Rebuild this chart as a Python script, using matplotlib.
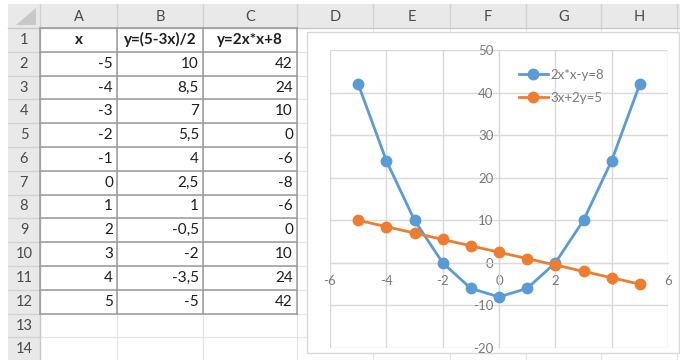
import numpy as np
import matplotlib
matplotlib.use("Agg")
import matplotlib.pyplot as plt
from matplotlib.patches import Rectangle, Polygon

plt.rcParams['font.family'] = ['Lato', 'DejaVu Sans']
plt.rcParams['axes.unicode_minus'] = False

# data from the sheet
x_vals = [-5, -4, -3, -2, -1, 0, 1, 2, 3, 4, 5]
y_line = [10, 8.5, 7, 5.5, 4, 2.5, 1, -0.5, -2, -3.5, -5]      # y=(5-3x)/2
y_parab = [42, 24, 10, 0, -6, -8, -6, 0, 10, 24, 42]          # column C
col_names = ['A', 'B', 'C', 'D', 'E', 'F', 'G', 'H']
head_row = ['x', 'y=(5-3x)/2', 'y=2x*x+8']
legend_names = ['2x*x-y=8', '3x+2y=5']
x_ticks = [-6, -4, -2, 0, 2, 4, 6]
y_ticks = [-20, -10, 0, 10, 20, 30, 40, 50]

W, H = 680, 360
fig = plt.figure(figsize=(6.8, 3.6), dpi=100)
sh = fig.add_axes([0, 0, 1, 1])
sh.set_xlim(0, W)
sh.set_ylim(H, 0)
sh.axis('off')

def fmt(v):
    s = ('%g' % v)
    return s.replace('.', ',')

# sheet geometry (pixels)
col_edges = [8, 40, 117, 203, 297, 373, 450, 526, 601, 677, 700]
top_head = 4
row0 = 28
rh = 23.8
n_rows = 14
row_edges = [row0 + rh * i for i in range(n_rows + 1)]

head_bg = '#E9E9E9'
head_txt = '#4A4A4A'

# header band
sh.add_patch(Rectangle((col_edges[0], top_head), W, row0 - top_head,
                       fc=head_bg, ec='none'))
sh.add_patch(Rectangle((col_edges[0], row0), col_edges[1] - col_edges[0], H,
                       fc=head_bg, ec='none'))
# corner triangle
sh.add_patch(Polygon([(col_edges[1] - 4, top_head + 4), (col_edges[1] - 4, row0 - 3),
                      (col_edges[0] + 8, row0 - 3)], closed=True,
                     fc='#C8C8C8', ec='none'))
# header separators
for xe in col_edges[1:]:
    sh.plot([xe, xe], [top_head, row0], color='#D2D2D2', lw=1)
sh.plot([col_edges[0], W], [row0, row0], color='#C8C8C8', lw=1)
sh.plot([col_edges[1], col_edges[1]], [row0, H], color='#C8C8C8', lw=1)
for ye in row_edges[1:]:
    sh.plot([col_edges[0], col_edges[1]], [ye, ye], color='#D2D2D2', lw=1)

for i, name in enumerate(col_names):
    xc = (col_edges[i + 1] + col_edges[i + 2]) / 2
    sh.text(xc, (top_head + row0) / 2 + 1, name, ha='center', va='center',
            fontsize=10.5, color=head_txt)
for r in range(n_rows):
    sh.text((col_edges[0] + col_edges[1]) / 2, (row_edges[r] + row_edges[r + 1]) / 2,
            str(r + 1), ha='center', va='center', fontsize=10.5, color=head_txt)

# light gridlines
for ye in row_edges[1:]:
    sh.plot([col_edges[1], W], [ye, ye], color='#E4E4E4', lw=0.8, zorder=1)
for xe in col_edges[2:]:
    sh.plot([xe, xe], [row0, H], color='#E4E4E4', lw=0.8, zorder=1)

# table borders
t_top, t_bot = row_edges[0], row_edges[12]
for ye in row_edges[:13]:
    sh.plot([col_edges[1], col_edges[4]], [ye, ye], color='#9A9A9A', lw=1.1, zorder=2)
for xe in col_edges[1:5]:
    sh.plot([xe, xe], [t_top, t_bot], color='#9A9A9A', lw=1.1, zorder=2)

# cell text
txt_col = '#1E1E1E'
for c, h in enumerate(head_row):
    xc = (col_edges[c + 1] + col_edges[c + 2]) / 2
    sh.text(xc, (row_edges[0] + row_edges[1]) / 2, h, ha='center', va='center',
            fontsize=11, color=txt_col, fontweight='bold')
for r in range(len(x_vals)):
    yc = (row_edges[r + 1] + row_edges[r + 2]) / 2
    for c, v in enumerate([x_vals[r], y_line[r], y_parab[r]]):
        sh.text(col_edges[c + 2] - 4, yc, fmt(v), ha='right', va='center',
                fontsize=11, color=txt_col)

# chart area
sh.add_patch(Rectangle((307, 32), 372, 321, fc='white', ec='#D9D9D9', lw=1, zorder=5))

# plot area
px0, px1, py0, py1 = 330, 668, 50, 348
ax = fig.add_axes([px0 / W, 1 - py1 / H, (px1 - px0) / W, (py1 - py0) / H], zorder=10)
ax.patch.set_alpha(0)
ax.set_xlim(-6, 6)
ax.set_ylim(-20, 50)
ax.set_xticks(x_ticks)
ax.set_yticks(y_ticks)
ax.grid(True, color='#D9D9D9', lw=1)
for s in ['top', 'right']:
    ax.spines[s].set_visible(False)
ax.spines['left'].set_position(('data', 0))
ax.spines['bottom'].set_position(('data', 0))
ax.spines['left'].set_color('#D9D9D9')
ax.spines['bottom'].set_color('#D9D9D9')
ax.tick_params(length=0, labelsize=9.5, labelcolor='#7A7A7A')
ax.tick_params(axis='x', pad=9)
ax.tick_params(axis='y', pad=4)

blue = '#5B9BD5'
orange = '#ED7D31'
ax.plot(x_vals, y_parab, '-o', color=blue, lw=2, ms=7.5, label=legend_names[0],
        zorder=4, clip_on=False)
ax.plot(x_vals, y_line, '-o', color=orange, lw=2, ms=7.5, label=legend_names[1],
        zorder=4, clip_on=False)

leg = ax.legend(loc='upper left', bbox_to_anchor=(512 / W, 1 - 62 / H),
                bbox_transform=fig.transFigure, frameon=False, fontsize=9.5,
                handlelength=2.2, handletextpad=0.2, labelspacing=0.85, borderpad=0)
for t in leg.get_texts():
    t.set_color('#7A7A7A')

fig.savefig('out.png', dpi=100)
